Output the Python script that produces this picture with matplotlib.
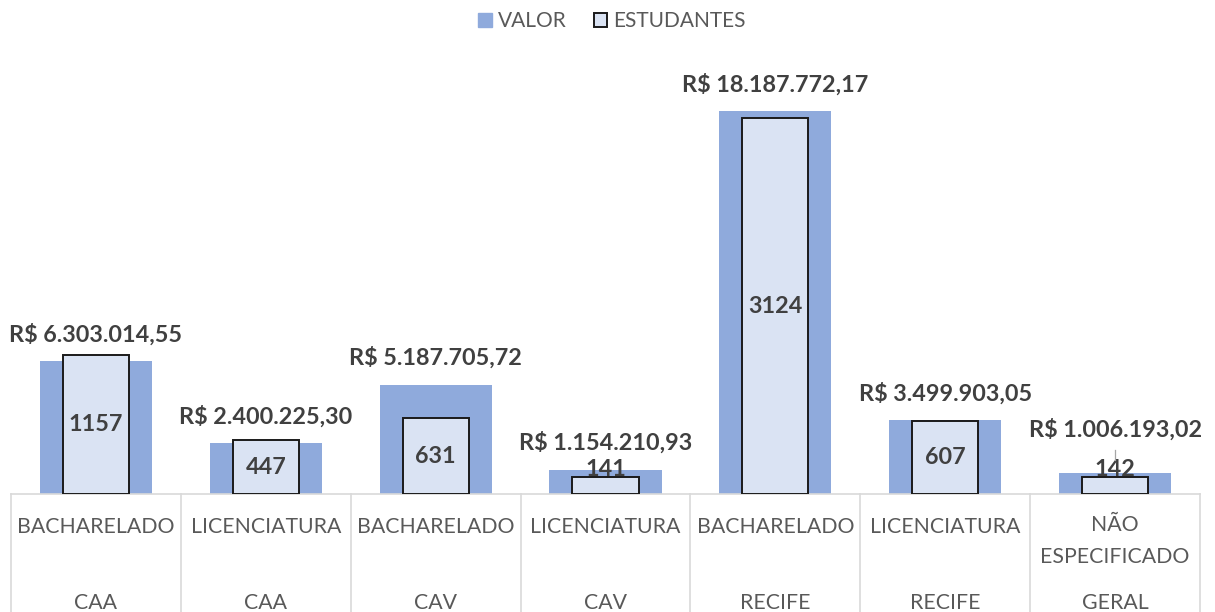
import matplotlib
matplotlib.use('Agg')
import matplotlib.pyplot as plt
from matplotlib.patches import Patch
from matplotlib.transforms import blended_transform_factory

plt.rcParams['font.family'] = ['Lato', 'DejaVu Sans']

cursos = ['BACHARELADO', 'LICENCIATURA', 'BACHARELADO', 'LICENCIATURA',
          'BACHARELADO', 'LICENCIATURA', 'NÃO\nESPECIFICADO']
campi = ['CAA', 'CAA', 'CAV', 'CAV', 'RECIFE', 'RECIFE', 'GERAL']
valor = [6303014.55, 2400225.30, 5187705.72, 1154210.93,
         18187772.17, 3499903.05, 1006193.02]
estudantes = [1157, 447, 631, 141, 3124, 607, 142]


def brl(v):
    s = f"{v:,.2f}".replace(',', 'X').replace('.', ',').replace('X', '.')
    return 'R$ ' + s


W, H = 1215, 612
fig = plt.figure(figsize=(W / 100, H / 100), dpi=100)
base_y = 494
top_y = 73
ax = fig.add_axes([11 / W, (H - base_y) / H, 1189 / W, (base_y - top_y) / H])
ax2 = ax.twinx()

x = list(range(len(valor)))
ax.bar(x, valor, width=0.66, color='#8FAADC', zorder=2)
ax2.bar(x, estudantes, width=0.39, color='#DAE3F3', edgecolor='#1a1a1a',
        linewidth=1.4, zorder=3)

ax.set_xlim(-0.5, len(x) - 0.5)
ax.set_ylim(0, 20000000)
ax2.set_ylim(0, 3500)

for a in (ax, ax2):
    for sp in a.spines.values():
        sp.set_visible(False)
    a.set_xticks([])
    a.set_yticks([])

lbl = dict(fontsize=16.8, fontweight='bold', color='#404040', zorder=5)

# rótulos de valor (o último sobe para não bater no rótulo de estudantes)
for xi, v in zip(x, valor):
    dy = 31 if xi == len(x) - 1 else 19.5
    ax.annotate(brl(v), (xi, v), xytext=(0, dy), textcoords='offset points',
                ha='center', va='center', **lbl)

# rótulos de estudantes
for xi, n in zip(x, estudantes):
    if n > 300:
        ax2.text(xi, n / 2, str(n), ha='center', va='center', **lbl)
    else:
        ax2.annotate(str(n), (xi, n), xytext=(0, 1), textcoords='offset points',
                     ha='center', va='baseline', **lbl)
# linha guia do último rótulo
ax2.plot([6, 6], [285, 365], color='#A6A6A6', lw=0.9, zorder=5)

# eixo de categorias
tr = blended_transform_factory(ax.transData, ax.transAxes)
depth = (H - base_y) / (base_y - top_y)
ax.plot([-0.5, len(x) - 0.5], [0, 0], transform=tr, color='#D9D9D9',
        lw=1.2, clip_on=False, zorder=4)
for b in range(len(x) + 1):
    ax.plot([b - 0.5, b - 0.5], [0, -depth], transform=tr, color='#D9D9D9',
            lw=1.2, clip_on=False)
row1 = -(527 - base_y) / (base_y - top_y)
row1b = -(541 - base_y) / (base_y - top_y)
row2 = -(603 - base_y) / (base_y - top_y)
cat = dict(fontsize=15.3, color='#595959', ha='center', va='center')
for xi, c, cp in zip(x, cursos, campi):
    y = row1b if '\n' in c else row1
    ax.text(xi, y, c, transform=tr, linespacing=1.75, **cat)
    ax.text(xi, row2, cp, transform=tr, **cat)

handles = [Patch(facecolor='#8FAADC', edgecolor='#8FAADC', label='VALOR'),
           Patch(facecolor='#DAE3F3', edgecolor='#1a1a1a', linewidth=1.4,
                 label='ESTUDANTES')]
fig.legend(handles=handles, loc='center', bbox_to_anchor=(612 / W, 1 - 21 / H),
           ncol=2, frameon=False, fontsize=15, handlelength=0.65,
           handleheight=0.65, handletextpad=0.3, columnspacing=1.3,
           labelcolor='#595959')

fig.savefig('out.png', dpi=100)
